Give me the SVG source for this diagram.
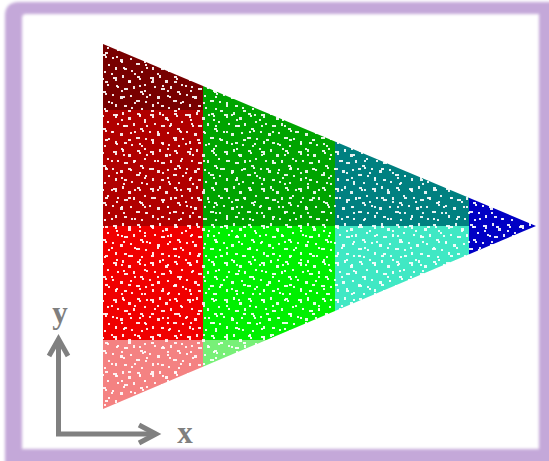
<svg xmlns="http://www.w3.org/2000/svg" width="549" height="461" viewBox="0 0 549 461">
  <style>
    .axis { stroke: #808080; stroke-width: 5; fill: none; stroke-linecap: butt; stroke-linejoin: miter; }
    .lbl { font-family: "Liberation Serif", "DejaVu Serif", serif; font-size: 31px; fill: #7f7f7f; font-weight: bold; }
    .sp { fill: #ffffff; }
  </style>
  <defs>
    <filter id="soft" x="-5%" y="-5%" width="110%" height="110%">
      <feGaussianBlur stdDeviation="1.6"/>
    </filter>
    <filter id="slight">
      <feGaussianBlur stdDeviation="0.45"/>
    </filter>
    <clipPath id="tri">
      <polygon points="103,44 103,409 536,226"/>
    </clipPath>
    <pattern id="speckA" width="37" height="37" patternUnits="userSpaceOnUse">
      <g class="sp">
        <rect x="2" y="3" width="4" height="2"/><rect x="4" y="5" width="2" height="2"/>
        <rect x="11" y="1" width="2" height="3"/>
        <rect x="17" y="6" width="3" height="3"/>
        <rect x="26" y="2" width="3" height="2"/><rect x="28" y="4" width="2" height="2"/>
        <rect x="33" y="10" width="2" height="2"/>
        <rect x="6" y="12" width="2" height="2"/>
        <rect x="13" y="14" width="4" height="2"/>
        <rect x="22" y="12" width="2" height="3"/>
        <rect x="29" y="17" width="3" height="2"/><rect x="31" y="19" width="2" height="2"/>
        <rect x="1" y="20" width="2" height="2"/>
        <rect x="9" y="22" width="3" height="3"/>
        <rect x="19" y="21" width="2" height="2"/>
        <rect x="25" y="26" width="4" height="2"/>
        <rect x="34" y="27" width="2" height="2"/>
        <rect x="4" y="30" width="2" height="3"/>
        <rect x="13" y="31" width="3" height="2"/>
        <rect x="20" y="33" width="2" height="2"/>
        <rect x="30" y="34" width="2" height="2"/>
      </g>
    </pattern>
    <pattern id="speckB" width="23" height="29" patternUnits="userSpaceOnUse" patternTransform="translate(5,7)">
      <g class="sp">
        <rect x="3" y="2" width="2" height="2"/>
        <rect x="14" y="8" width="2" height="2"/>
        <rect x="8" y="16" width="3" height="2"/>
        <rect x="19" y="20" width="2" height="2"/>
        <rect x="1" y="25" width="2" height="2"/>
      </g>
    </pattern>
  </defs>

  <rect width="549" height="461" fill="#ffffff"/>

  <!-- frame -->
  <g id="frame" filter="url(#soft)">
    <path fill="#c4a8d9" fill-rule="evenodd"
      d="M19,2 H560 V470 H5 V16 Q5,2 19,2 Z
         M26,14 H539 V449 H22 V18 Q22,14 26,14 Z"/>
  </g>

  <!-- scatter triangle -->
  <g id="triangle" clip-path="url(#tri)">
    <g filter="url(#slight)">
      <rect x="100" y="40" width="103" height="70" fill="#780000"/>
      <rect x="100" y="110" width="103" height="116" fill="#b00000"/>
      <rect x="100" y="226" width="103" height="114" fill="#f00000"/>
      <rect x="100" y="340" width="103" height="80" fill="#f48282"/>
      <rect x="203" y="40" width="132" height="186" fill="#00a400"/>
      <rect x="203" y="226" width="132" height="114" fill="#00f000"/>
      <rect x="203" y="340" width="132" height="80" fill="#78f078"/>
      <rect x="335" y="40" width="134" height="186" fill="#008080"/>
      <rect x="335" y="226" width="134" height="200" fill="#40e8c4"/>
      <rect x="469" y="40" width="80" height="380" fill="#0000c4"/>
      <rect x="100" y="40" width="449" height="380" fill="url(#speckA)" opacity="0.9"/>
      <rect x="100" y="40" width="449" height="380" fill="url(#speckB)" opacity="0.9"/>
    </g>
  </g>

  <!-- axes -->
  <g id="axes">
    <path class="axis" d="M58.5,436.5 V340 M58.5,434 H155"/>
    <path class="axis" d="M49,356 L58.5,339 L68,356"/>
    <path class="axis" d="M139,425 L156,434 L139,443"/>
  </g>
  <g id="labels">
    <text class="lbl" x="60" y="323" text-anchor="middle">y</text>
    <text class="lbl" x="185" y="443" text-anchor="middle">x</text>
  </g>
</svg>
